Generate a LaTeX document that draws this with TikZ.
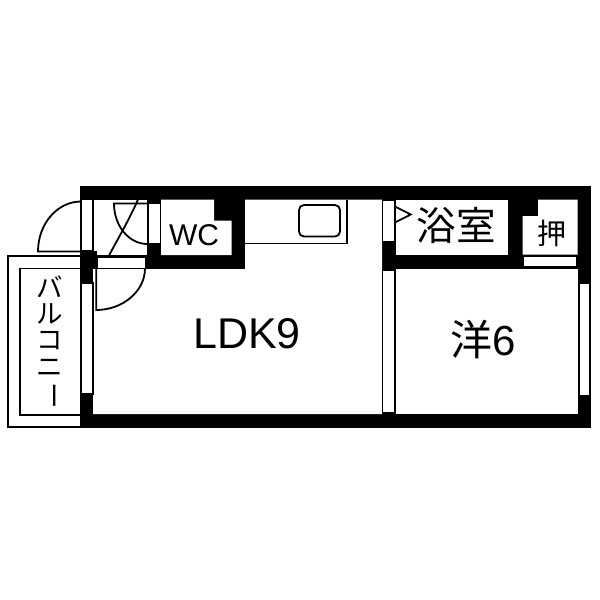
\documentclass[tikz,border=0pt]{standalone}
\usepackage{fontspec}
\setmainfont{Liberation Sans}
\newfontfamily\cjk{Noto Sans CJK JP}
\begin{document}
\begin{tikzpicture}[
	x=1pt, y=-1pt,
	wall/.style={fill=black},
	room/.style={fill=white},
	window/.style={draw, fill=white, line width=1.6pt},
	line/.style={draw, line width=1.8pt},
	label/.style={inner sep=0pt, font=\cjk}
	]
	\useasboundingbox (0,0) rectangle (600,600);
	
	% Balcony
	\draw[line] (80,256) -- (8,256) -- (8,427) -- (80,427);
	\draw[line] (80,268.5) -- (20,268.5) -- (20,415) -- (80,415);
	
	% Outer walls
	\fill[wall] (80,185.5) rectangle (591,427.5);
	
	% Rooms
	\fill[room] (93,199.5) rectangle (147,256);
	\fill[room] (93,269) -- (245,269) -- (245,199.5) -- (382,199.5) -- (382,269)
		-- (382,414) -- (93,414) -- cycle;
	\fill[room] (161,199.5) -- (214,199.5) -- (214,220.5) -- (231.5,220.5) -- (231.5,255) -- (161,255) -- cycle;
	\fill[room] (395.5,199.5) rectangle (508,254.5);
	\fill[room] (538,199.5) -- (577.5,199.5) -- (577.5,254.5) -- (522.5,254.5) -- (522.5,216) -- (538,216) -- cycle;
	\fill[room] (395.5,268.5) rectangle (577.5,414);
	\fill[wall] (80,251) rectangle (96.7,268);
	\fill[wall] (80,268) rectangle (93,283);
	
	% Windows and thresholds
	\draw[window] (81,199.5) rectangle (93,251);
	\draw[window] (81,283) rectangle (93,394);
	\draw[window] (148,203.5) rectangle (160.5,244);
	\draw[window] (96.7,257) rectangle (145.5,268.5);
	\draw[window] (382.5,200.5) rectangle (394.5,242);
	\draw[window] (382.5,270) rectangle (394.5,412.5);
	\draw[window] (523.5,256) rectangle (577,267);
	\draw[window] (579,283.5) rectangle (590,395.5);
	
	% Entrance frame
	\draw[line] (147.5,199.5) -- (147.5,244);
	\draw[line] (93,255.5) -- (147.5,255.5);
	
	% Doors
	\draw[line] (81,201.5) .. controls (57.2,201.5) and (38,224) .. (38,251.5) -- (81,251.5);
	\draw[line] (147.5,203.5) -- (114,203.5) .. controls (114,226) and (129,244) .. (147.5,244);
	\draw[line] (109,255.5) .. controls (120,235) and (130,218) .. (138,199.5);
	\draw[line] (96.2,268.5) -- (96.2,310) .. controls (123,310) and (145,291) .. (145,268.5);
	\draw[line] (395,206.5) -- (410.7,214.5) -- (395,222.5);
	
	% Kitchen
	\draw[line] (245,243.5) -- (346.8,243.5) -- (346.8,199.5);
	\draw[line, rounded corners=5pt] (299,205) rectangle (340,236.5);
	
	% Labels
	\node[label, font=\fontsize{43}{43}\selectfont] (ldk) at (247,334) {LDK9};
	\node[label, font=\fontsize{42}{42}\selectfont] (western) at (483.5,340) {{\cjk 洋}6};
	\node[label, font=\cjk\fontsize{39.5}{40}\selectfont] (bath) at (456,225) {浴室};
	\node[label, font=\fontsize{30}{30}\selectfont] (wc) at (194,235) {WC};
	\node[label, font=\cjk\fontsize{29}{29}\selectfont] (closet) at (552,233.5) {押};
	
	% Balcony label
	\foreach \name/\ch/\y in {ba/バ/287, ru/ル/314, ko/コ/341, ni/ニ/368}
	\node[label, font=\cjk\fontsize{26.5}{27}\selectfont] (\name) at (50,\y) {\ch};
	\node[label, rotate=-90, font=\cjk\fontsize{26.5}{27}\selectfont] (bar) at (50,396) {ー};
\end{tikzpicture}
\end{document}
